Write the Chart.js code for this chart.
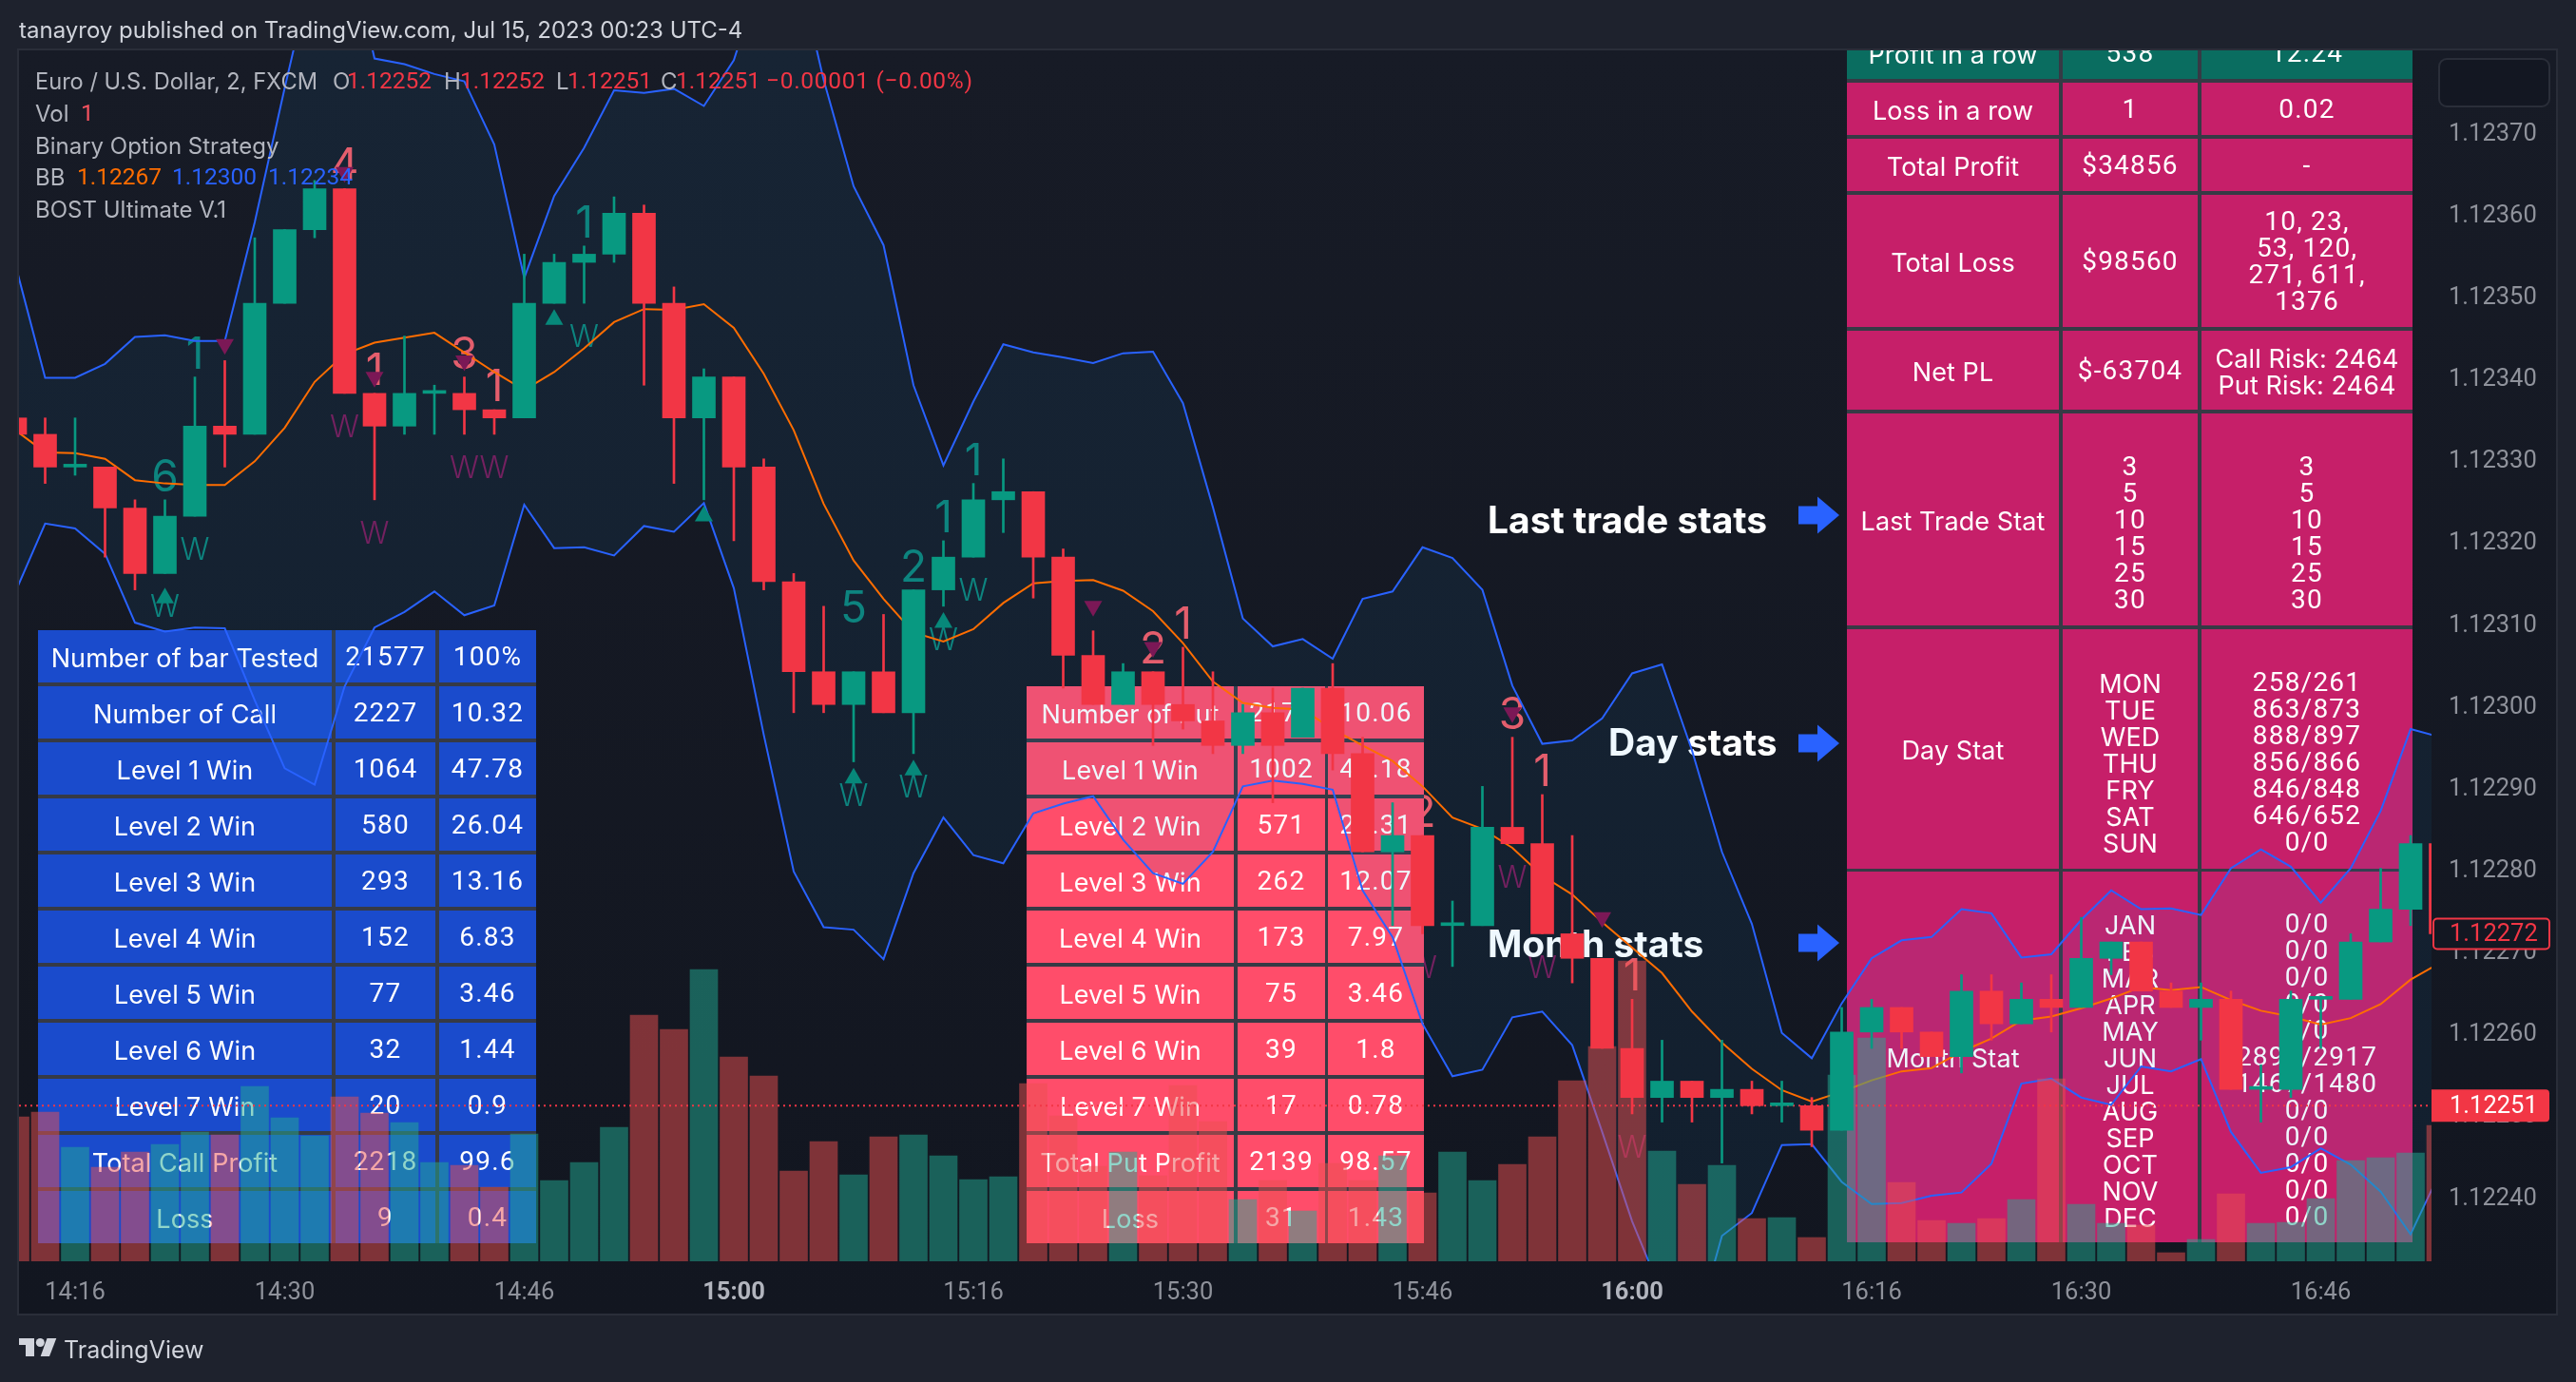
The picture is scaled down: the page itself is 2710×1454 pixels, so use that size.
<!DOCTYPE html>
<html>
<head>
<meta charset="utf-8">
<title>EURUSD 2m</title>
<script src="https://cdn.jsdelivr.net/npm/chart.js@4/dist/chart.umd.min.js"></script>
<style>
  html, body { margin: 0; background: #1e222d; }
  canvas { display: block; }
</style>
</head>
<body>
<canvas id="myChart" width="2710" height="1454"></canvas>
<script>
const times = ["14:12","14:14","14:16","14:18","14:20","14:22","14:24","14:26","14:28","14:30","14:32","14:34","14:36","14:38","14:40","14:42","14:44","14:46","14:48","14:50","14:52","14:54","14:56","14:58","15:00","15:02","15:04","15:06","15:08","15:10","15:12","15:14","15:16","15:18","15:20","15:22","15:24","15:26","15:28","15:30","15:32","15:34","15:36","15:38","15:40","15:42","15:44","15:46","15:48","15:50","15:52","15:54","15:56","15:58","16:00","16:02","16:04","16:06","16:08","16:10","16:12","16:14","16:16","16:18","16:20","16:22","16:24","16:26","16:28","16:30","16:32","16:34","16:36","16:38","16:40","16:42","16:44","16:46","16:48","16:50","16:52","16:54"];
const opens = [1.12335,1.12333,1.12329,1.12329,1.12324,1.12316,1.12323,1.12334,1.12333,1.12349,1.12358,1.12363,1.12338,1.12334,1.12338,1.12338,1.12336,1.12335,1.12349,1.12354,1.12355,1.1236,1.12349,1.12335,1.1234,1.12329,1.12315,1.12304,1.123,1.12304,1.12299,1.12314,1.12318,1.12325,1.12326,1.12318,1.12306,1.123,1.12304,1.123,1.12298,1.12295,1.12299,1.12296,1.12302,1.12294,1.12282,1.12284,1.12273,1.12273,1.12285,1.12283,1.12272,1.12269,1.12258,1.12252,1.12254,1.12252,1.12253,1.12251,1.12251,1.12248,1.1226,1.12263,1.1226,1.12257,1.12265,1.12261,1.12264,1.12263,1.12269,1.12271,1.12265,1.12263,1.12264,1.12253,1.12253,1.12264,1.12264,1.12271,1.12275,1.12283];
const highs = [1.12335,1.12335,1.12335,1.12329,1.12325,1.12325,1.1234,1.12342,1.12357,1.12358,1.12364,1.12363,1.12338,1.12345,1.12339,1.1234,1.12336,1.12355,1.12355,1.12356,1.12362,1.12361,1.12351,1.12341,1.1234,1.1233,1.12316,1.12312,1.12304,1.12311,1.12314,1.1232,1.12327,1.1233,1.12326,1.12319,1.12309,1.12305,1.12304,1.12307,1.12304,1.123,1.12302,1.12302,1.12305,1.12296,1.12288,1.12284,1.12276,1.1229,1.12296,1.12289,1.12284,1.12269,1.12264,1.12259,1.12254,1.12259,1.12254,1.12254,1.12252,1.12263,1.12264,1.12263,1.1226,1.12267,1.12267,1.12266,1.12267,1.12274,1.12271,1.12271,1.12266,1.12266,1.12265,1.12256,1.12265,1.12264,1.12272,1.1228,1.12284,1.12283];
const lows = [1.12333,1.12327,1.12328,1.12318,1.12314,1.12316,1.12323,1.12329,1.12333,1.12349,1.12357,1.12338,1.12325,1.12333,1.12333,1.12333,1.12333,1.12335,1.12349,1.12349,1.12354,1.12339,1.12327,1.12325,1.1232,1.12314,1.12299,1.12299,1.12293,1.12299,1.12294,1.12312,1.12318,1.12321,1.12313,1.12302,1.123,1.123,1.12295,1.12297,1.12294,1.12294,1.12288,1.12296,1.12292,1.12282,1.12273,1.12272,1.12268,1.12273,1.12283,1.12272,1.12266,1.12258,1.1225,1.12249,1.12249,1.12244,1.1225,1.12249,1.12246,1.12248,1.12258,1.12258,1.12257,1.12255,1.12259,1.12261,1.1226,1.12263,1.12267,1.12265,1.12263,1.12259,1.12253,1.12249,1.12252,1.12258,1.12264,1.12271,1.12273,1.12272];
const closes = [1.12333,1.12329,1.12329,1.12324,1.12316,1.12323,1.12334,1.12333,1.12349,1.12358,1.12363,1.12338,1.12334,1.12338,1.12338,1.12336,1.12335,1.12349,1.12354,1.12355,1.1236,1.12349,1.12335,1.1234,1.12329,1.12315,1.12304,1.123,1.12304,1.12299,1.12314,1.12318,1.12325,1.12326,1.12318,1.12306,1.123,1.12304,1.123,1.12298,1.12295,1.12299,1.12295,1.12302,1.12294,1.12282,1.12284,1.12273,1.12273,1.12285,1.12283,1.12272,1.12269,1.12258,1.12252,1.12254,1.12252,1.12253,1.12251,1.12251,1.12248,1.1226,1.12263,1.1226,1.12257,1.12265,1.12261,1.12264,1.12263,1.12269,1.12271,1.12265,1.12263,1.12264,1.12253,1.12253,1.12264,1.12264,1.12271,1.12275,1.12283,1.12272];
const volumes = [152,157,120,99,115,123,136,133,184,151,132,173,156,146,104,101,78,134,85,104,141,259,244,307,215,195,95,126,91,131,133,111,86,89,187,153,100,115,90,185,147,65,85,53,103,85,111,72,115,85,102,131,190,226,316,116,81,101,45,46,25,196,235,83,43,40,45,65,192,60,40,38,9,23,71,40,41,66,106,109,114,143];
const bbUpper = [1.123538,1.123399,1.123399,1.123416,1.123449,1.123451,1.123444,1.123444,1.123589,1.123753,1.12391,1.12395,1.123789,1.123782,1.12377,1.123761,1.123684,1.123521,1.123621,1.12368,1.12375,1.123747,1.123752,1.123731,1.123787,1.1239,1.12392,1.123763,1.123633,1.123561,1.12339,1.123292,1.12337,1.12344,1.12343,1.123424,1.123417,1.123429,1.123431,1.123368,1.123241,1.123105,1.123071,1.12308,1.123056,1.123129,1.123138,1.123192,1.123179,1.12314,1.123023,1.122952,1.122956,1.122983,1.123038,1.123049,1.122944,1.12282,1.122732,1.122599,1.122568,1.122635,1.12269,1.122712,1.122716,1.12275,1.122745,1.122691,1.122695,1.122737,1.122773,1.12275,1.122751,1.122743,1.1228,1.122823,1.122802,1.122758,1.1228,1.12287,1.12297,1.12296];
const bbMiddle = [1.123335,1.123308,1.123307,1.1233,1.123274,1.12327,1.123268,1.123268,1.123297,1.123338,1.123394,1.123428,1.123442,1.123448,1.123454,1.12343,1.123406,1.123384,1.123406,1.123435,1.123467,1.123483,1.123482,1.123489,1.12346,1.123404,1.123335,1.123245,1.123176,1.123129,1.123088,1.123077,1.123092,1.123124,1.123148,1.123151,1.123152,1.123139,1.123114,1.123075,1.123028,1.123002,1.122996,1.122994,1.12297,1.12295,1.122931,1.1229,1.122862,1.122848,1.122825,1.122791,1.122768,1.122734,1.122703,1.122672,1.122625,1.122587,1.122555,1.122529,1.122515,1.122527,1.122541,1.122552,1.122556,1.122576,1.122592,1.122614,1.122619,1.122629,1.122641,1.122655,1.122651,1.122655,1.122639,1.122626,1.122619,1.122609,1.122617,1.122634,1.122664,1.122685];
const bbLower = [1.123137,1.123221,1.123215,1.123184,1.1231,1.123089,1.123094,1.123093,1.123005,1.122922,1.122902,1.123022,1.123094,1.123113,1.123138,1.123109,1.123121,1.123244,1.123191,1.123192,1.123182,1.123218,1.123211,1.123246,1.123142,1.122963,1.122796,1.122728,1.122725,1.122689,1.122794,1.122862,1.122816,1.122806,1.122867,1.122879,1.122888,1.122835,1.122794,1.122781,1.12282,1.1229,1.122907,1.122903,1.122896,1.122773,1.122716,1.12261,1.122546,1.122554,1.122618,1.122625,1.122584,1.122478,1.122369,1.12228,1.12222,1.122351,1.122379,1.122462,1.122463,1.122417,1.12239,1.122391,1.1224,1.122404,1.122439,1.122537,1.122543,1.12252,1.122511,1.122558,1.122552,1.122567,1.122478,1.122428,1.122435,1.122458,1.122438,1.122405,1.122353,1.12243];

const timeTicks = ["14:16","14:30","14:46","15:00","15:16","15:30","15:46","16:00","16:16","16:30","16:46"];
const boldTimeTicks = ["15:00","16:00"];
const priceTicks = [1.1237,1.1236,1.1235,1.1234,1.1233,1.1232,1.1231,1.123,1.1229,1.1228,1.1227,1.1226,1.1225,1.1224];
const lastPrice = 1.12272;
const cursorPrice = 1.12251;

// martingale step counters printed next to the bars
const countBars = [5,6,19,28,30,31,32,11,12,15,16,38,39,47,50,51,54];
const countPrices = [1.12328,1.12343,1.12359,1.12312,1.12317,1.12323,1.1233,1.12366,1.12341,1.12343,1.12339,1.12307,1.1231,1.12287,1.12299,1.12292,1.12267];
const countTexts = ["6","1","1","5","2","1","1","4","1","3","1","2","1","2","3","1","1"];
const countIsCall = [1,1,1,1,1,1,1,0,0,0,0,0,0,0,0,0,0];
const winBars = [6,19,5,28,30,31,32,11,12,15,16,47,50,51,54];
const winPrices = [1.12319,1.12345,1.12312,1.12289,1.1229,1.12308,1.12314,1.12334,1.12321,1.12329,1.12329,1.12268,1.12279,1.12268,1.12246];
const winIsCall = [1,1,1,1,1,1,1,0,0,0,0,0,0,0,0];
const callBars = [5,18,23,28,30,31];
const callPrices = [1.12313,1.12347,1.12323,1.12291,1.12292,1.1231];
const putBars = [7,11,12,15,36,38,50,53];
const putPrices = [1.12344,1.12365,1.1234,1.12342,1.12312,1.12307,1.12299,1.12274];

const callLabels = ["Number of bar Tested","Number of Call","Level 1 Win","Level 2 Win","Level 3 Win","Level 4 Win","Level 5 Win","Level 6 Win","Level 7 Win","Total Call Profit","Loss"];
const callCounts = ["21577","2227","1064","580","293","152","77","32","20","2218","9"];
const callPercents = ["100%","10.32","47.78","26.04","13.16","6.83","3.46","1.44","0.9","99.6","0.4"];
const putLabels = ["Number of Put","Level 1 Win","Level 2 Win","Level 3 Win","Level 4 Win","Level 5 Win","Level 6 Win","Level 7 Win","Total Put Profit","Loss"];
const putCounts = ["2170","1002","571","262","173","75","39","17","2139","31"];
const putPercents = ["10.06","46.18","26.31","12.07","7.97","3.46","1.8","0.78","98.57","1.43"];
const summaryLabels = ["Profit in a row","Loss in a row","Total Profit","Total Loss","Net PL","Last Trade Stat","Day Stat","Month Stat"];
const summaryFirst = ["538","1","$34856","$98560","$-63704","\n3\n5\n10\n15\n25\n30","\nMON\nTUE\nWED\nTHU\nFRY\nSAT\nSUN","\nJAN\nFEB\nMAR\nAPR\nMAY\nJUN\nJUL\nAUG\nSEP\nOCT\nNOV\nDEC"];
const summarySecond = ["12.24","0.02","-","10, 23,\n53, 120,\n271, 611,\n1376","Call Risk: 2464\nPut Risk: 2464","\n3\n5\n10\n15\n25\n30","\n258/261\n863/873\n888/897\n856/866\n846/848\n646/652\n0/0","\n0/0\n0/0\n0/0\n0/0\n0/0\n2890/2917\n1467/1480\n0/0\n0/0\n0/0\n0/0\n0/0"];

const FONT = "Inter";
const NUM_FONT = "Roboto"; // tabular figures
const UP = "#089981", DOWN = "#f23645";
const isUp = times.map((_, i) => closes[i] >= opens[i]);
const xMin = 0.127, xMax = 80.698;

function text(ctx, str, x, y, font, color, align, spacing) {
  ctx.font = font;
  ctx.fillStyle = color;
  ctx.textAlign = align || "left";
  ctx.textBaseline = "middle";
  ctx.letterSpacing = (spacing || 0) + "px";
  ctx.fillText(str, x, y);
  ctx.letterSpacing = "0px";
}

function cellText(ctx, str, x, y) {
  if (/^[\d$.,%\/\s-]+$/.test(str)) {
    text(ctx, str, x, y + 2, "400 28px " + NUM_FONT, "#ffffff", "center", 1.2);
  } else {
    text(ctx, str, x, y + 3, "400 27px " + FONT, "#ffffff", "center", 0.1);
  }
}

function drawTable(ctx, cols, rows, columns, fills) {
  ctx.fillStyle = "#363a45";
  ctx.fillRect(cols[0][0], rows[0][0], cols[2][1] - cols[0][0], rows[rows.length - 1][1] - rows[0][0]);
  rows.forEach((row, r) => {
    cols.forEach((col, c) => {
      ctx.fillStyle = fills(r);
      ctx.fillRect(col[0], row[0], col[1] - col[0], row[1] - row[0]);
      const lines = columns[c][r].split("\n");
      const cy = (row[0] + row[1]) / 2 - (lines.length - 1) * 14;
      lines.forEach((line, l) => cellText(ctx, line, (col[0] + col[1]) / 2, cy + l * 28));
    });
  });
}

function pitchRows(top, count) {
  const rows = [];
  for (let i = 0; i < count; i++) rows.push([top + 59 * i, top + 59 * i + 55]);
  return rows;
}

function arrow(ctx, cy) {
  ctx.fillStyle = "#2962ff";
  ctx.beginPath();
  ctx.moveTo(1892, cy - 9.5);
  ctx.lineTo(1912, cy - 9.5);
  ctx.lineTo(1912, cy - 19.5);
  ctx.lineTo(1935, cy);
  ctx.lineTo(1912, cy + 19.5);
  ctx.lineTo(1912, cy + 9.5);
  ctx.lineTo(1892, cy + 9.5);
  ctx.closePath();
  ctx.fill();
}

function isBoldTick(c) {
  return !!c.tick && boldTimeTicks.includes(times[c.tick.value]);
}

// pane background, frame, header and footer
const frame = {
  id: "frame",
  beforeDraw(chart) {
    const ctx = chart.ctx;
    ctx.save();
    const grad = ctx.createLinearGradient(0, 53, 0, 1382);
    grad.addColorStop(0, "#171b26");
    grad.addColorStop(1, "#121620");
    ctx.fillStyle = grad;
    ctx.fillRect(20, 53, 2669, 1329);
    ctx.strokeStyle = "#2a2e39";
    ctx.lineWidth = 2;
    ctx.strokeRect(19, 52, 2671, 1331);
    text(ctx, "tanayroy published on TradingView.com, Jul 15, 2023 00:23 UTC-4", 20, 33, "400 24px " + FONT, "#d1d4dc");
    // logo
    ctx.fillStyle = "#d1d4dc";
    ctx.fillRect(20, 1408, 16, 7);
    ctx.fillRect(27, 1408, 9, 19);
    ctx.beginPath();
    ctx.arc(42.3, 1412.5, 4.5, 0, Math.PI * 2);
    ctx.fill();
    ctx.beginPath();
    ctx.moveTo(49.5, 1408);
    ctx.lineTo(59.3, 1408);
    ctx.lineTo(52, 1427);
    ctx.lineTo(42.7, 1427);
    ctx.closePath();
    ctx.fill();
    text(ctx, "TradingView", 67, 1421, "400 25px " + FONT, "#d1d4dc");
    ctx.restore();
  }
};

// signal labels, stat tables and captions sit under the series
const underlay = {
  id: "underlay",
  beforeDatasetsDraw(chart) {
    const ctx = chart.ctx, a = chart.chartArea;
    const x = chart.scales.x, y = chart.scales.y;
    ctx.save();
    ctx.beginPath();
    ctx.rect(a.left, a.top, a.right - a.left, a.bottom - a.top);
    ctx.clip();

    countBars.forEach((bar, i) => {
      text(ctx, countTexts[i], x.getPixelForValue(bar), y.getPixelForValue(countPrices[i]) + 3,
        "400 46px " + FONT, countIsCall[i] ? "#0c8377" : "#f45a63", "center");
    });
    winBars.forEach((bar, i) => {
      text(ctx, "W", x.getPixelForValue(bar), y.getPixelForValue(winPrices[i]) + 2,
        "300 32px " + FONT, winIsCall[i] ? "#0c8377" : "#7b1856", "center");
    });

    const callCols = [[40, 349], [353, 458], [462, 564]];
    drawTable(ctx, callCols, pitchRows(663, callLabels.length), [callLabels, callCounts, callPercents], () => "#1a4bcc");
    const putCols = [[1080, 1298], [1302, 1394], [1397, 1498]];
    drawTable(ctx, putCols, pitchRows(722, putLabels.length), [putLabels, putCounts, putPercents], () => "#ff4d6a");
    const sumCols = [[1943, 2166], [2170, 2312], [2316, 2538]];
    const sumRows = [[28, 83], [87, 142], [146, 201], [205, 344], [348, 431], [435, 658], [662, 914], [917, 1307]];
    drawTable(ctx, sumCols, sumRows, [summaryLabels, summaryFirst, summarySecond], r => (r === 0 ? "#0a6d60" : "#c61f69"));

    text(ctx, "Last trade stats", 1565, 549, "700 39px " + FONT, "#ffffff");
    text(ctx, "Day stats", 1692, 783, "700 39px " + FONT, "#ffffff");
    text(ctx, "Month stats", 1565, 995, "700 39px " + FONT, "#ffffff");
    arrow(ctx, 542);
    arrow(ctx, 782);
    arrow(ctx, 992);
    ctx.restore();
  }
};

// status lines and price tags on top of everything
const overlay = {
  id: "overlay",
  afterDatasetsDraw(chart) {
    const ctx = chart.ctx;
    const font = "400 24px " + FONT;
    const num = "400 24.5px " + NUM_FONT;
    const grey = "#b2b5be";
    ctx.save();
    text(ctx, "Euro / U.S. Dollar, 2, FXCM", 37, 87, "400 23.6px " + FONT, grey);
    [["O", 350, grey, font], ["1.12252", 365, DOWN, num], ["H", 467, grey, font], ["1.12252", 484, DOWN, num],
     ["L", 585, grey, font], ["1.12251", 597, DOWN, num], ["C", 695, grey, font], ["1.12251", 711, DOWN, num]]
      .forEach(s => text(ctx, s[0], s[1], 87, s[3], s[2]));
    text(ctx, "\u22120.00001 (\u22120.00%)", 806, 87, num, DOWN, "left", 0.7);
    text(ctx, "Vol", 37, 121, font, grey);
    text(ctx, "1", 85, 121, num, "#f7525f");
    text(ctx, "Binary Option Strategy", 37, 155, font, grey);
    text(ctx, "BB", 37, 188, font, grey);
    text(ctx, "1.12267", 81, 188, num, "#ff6d00");
    text(ctx, "1.12300", 181, 188, num, "#2962ff");
    text(ctx, "1.12234", 282, 188, num, "#2962ff");
    text(ctx, "BOST Ultimate V.1", 37, 222, font, grey);
    ctx.restore();
  },
  afterDraw(chart) {
    const ctx = chart.ctx, y = chart.scales.y;
    ctx.save();
    ctx.fillStyle = "#131722";
    ctx.strokeStyle = "#2a2e39";
    ctx.lineWidth = 2;
    ctx.beginPath();
    ctx.roundRect(2566, 62, 116, 50, 8);
    ctx.fill();
    ctx.stroke();

    const lastY = y.getPixelForValue(lastPrice);
    ctx.fillStyle = "#131722";
    ctx.strokeStyle = DOWN;
    ctx.beginPath();
    ctx.roundRect(2560, lastY - 16, 122, 32, 4);
    ctx.fill();
    ctx.stroke();
    text(ctx, lastPrice.toFixed(5), 2577, lastY + 1, "400 25.5px " + NUM_FONT, DOWN);

    const curY = y.getPixelForValue(cursorPrice);
    ctx.fillStyle = DOWN;
    ctx.beginPath();
    ctx.roundRect(2558, curY - 17, 124, 34, [0, 4, 4, 0]);
    ctx.fill();
    text(ctx, cursorPrice.toFixed(5), 2577, curY + 1, "400 25.5px " + NUM_FONT, "#ffffff");
    ctx.restore();
  }
};

const ctx = document.getElementById("myChart");

new Chart(ctx, {
  type: "bar",
  data: {
    datasets: [
      {
        type: "line", label: "BB upper", order: 8,
        data: bbUpper.map((v, i) => ({ x: i, y: v })),
        borderColor: "#2962ff", borderWidth: 2, pointRadius: 0, tension: 0,
        fill: 1, backgroundColor: "rgba(33,150,243,0.07)",
      },
      {
        type: "line", label: "BB lower", order: 7,
        data: bbLower.map((v, i) => ({ x: i, y: v })),
        borderColor: "#2962ff", borderWidth: 2, pointRadius: 0, tension: 0,
      },
      {
        type: "line", label: "BB basis", order: 6,
        data: bbMiddle.map((v, i) => ({ x: i, y: v })),
        borderColor: "#ff6d00", borderWidth: 2, pointRadius: 0, tension: 0,
      },
      {
        label: "Vol", order: 5, yAxisID: "vol", grouped: false, barThickness: 29,
        data: volumes.map((v, i) => ({ x: i, y: v })),
        backgroundColor: isUp.map(u => (u ? "rgba(34,171,148,0.5)" : "rgba(235,80,80,0.5)")),
      },
      {
        type: "line", label: "Cursor price", order: 4,
        data: [{ x: xMin, y: cursorPrice }, { x: xMax, y: cursorPrice }],
        borderColor: DOWN, borderWidth: 2, borderDash: [2, 4], pointRadius: 0,
      },
      {
        label: "Wick", order: 3, grouped: false, barThickness: 2,
        data: times.map((_, i) => ({ x: i, y: [lows[i], highs[i]] })),
        backgroundColor: isUp.map(u => (u ? UP : DOWN)),
      },
      {
        label: "Body", order: 2, grouped: false, barThickness: 24, minBarLength: 3,
        data: times.map((_, i) => ({ x: i, y: [opens[i], closes[i]] })),
        backgroundColor: isUp.map(u => (u ? UP : DOWN)),
      },
      {
        type: "scatter", label: "Call", order: 1,
        data: callBars.map((b, i) => ({ x: b, y: callPrices[i] })),
        pointStyle: "triangle", pointRadius: 11, backgroundColor: "#07887a", borderWidth: 0,
      },
      {
        type: "scatter", label: "Put", order: 1,
        data: putBars.map((b, i) => ({ x: b, y: putPrices[i] })),
        pointStyle: "triangle", pointRotation: 180, pointRadius: 11, backgroundColor: "#7b1856", borderWidth: 0,
      },
    ],
  },
  options: {
    responsive: false,
    animation: false,
    devicePixelRatio: 1,
    layout: { padding: { left: 20, top: 53, right: 20, bottom: 72 } },
    plugins: { legend: { display: false }, tooltip: { enabled: false } },
    scales: {
      x: {
        type: "linear", offset: false, min: xMin, max: xMax,
        grid: { display: false, drawTicks: false },
        border: { display: false },
        afterBuildTicks: s => { s.ticks = timeTicks.map(t => ({ value: times.indexOf(t) })); },
        afterFit: s => { s.height = 55; },
        ticks: {
          autoSkip: false, maxRotation: 0, padding: 18,
          callback: v => times[v],
          color: c => (isBoldTick(c) ? "#b2b5be" : "#8f929b"),
          font: c => ({ family: NUM_FONT, size: 25.5, weight: isBoldTick(c) ? 700 : 400 }),
        },
      },
      y: {
        position: "right", min: 1.12232, max: 1.1237989,
        grid: { display: false, drawTicks: false },
        border: { display: false },
        afterBuildTicks: s => { s.ticks = priceTicks.map(v => ({ value: v })); },
        afterFit: s => { s.width = 132; },
        ticks: {
          padding: 18, color: "#8f929b", font: { family: NUM_FONT, size: 25.5, lineHeight: 0.24 },
          // empty first line pushes the label a few px below its tick
          callback: v => ["", v.toFixed(5)],
        },
      },
      vol: { display: false, min: 0, max: 1274 },
    },
  },
  plugins: [frame, underlay, overlay],
});
</script>
</body>
</html>
